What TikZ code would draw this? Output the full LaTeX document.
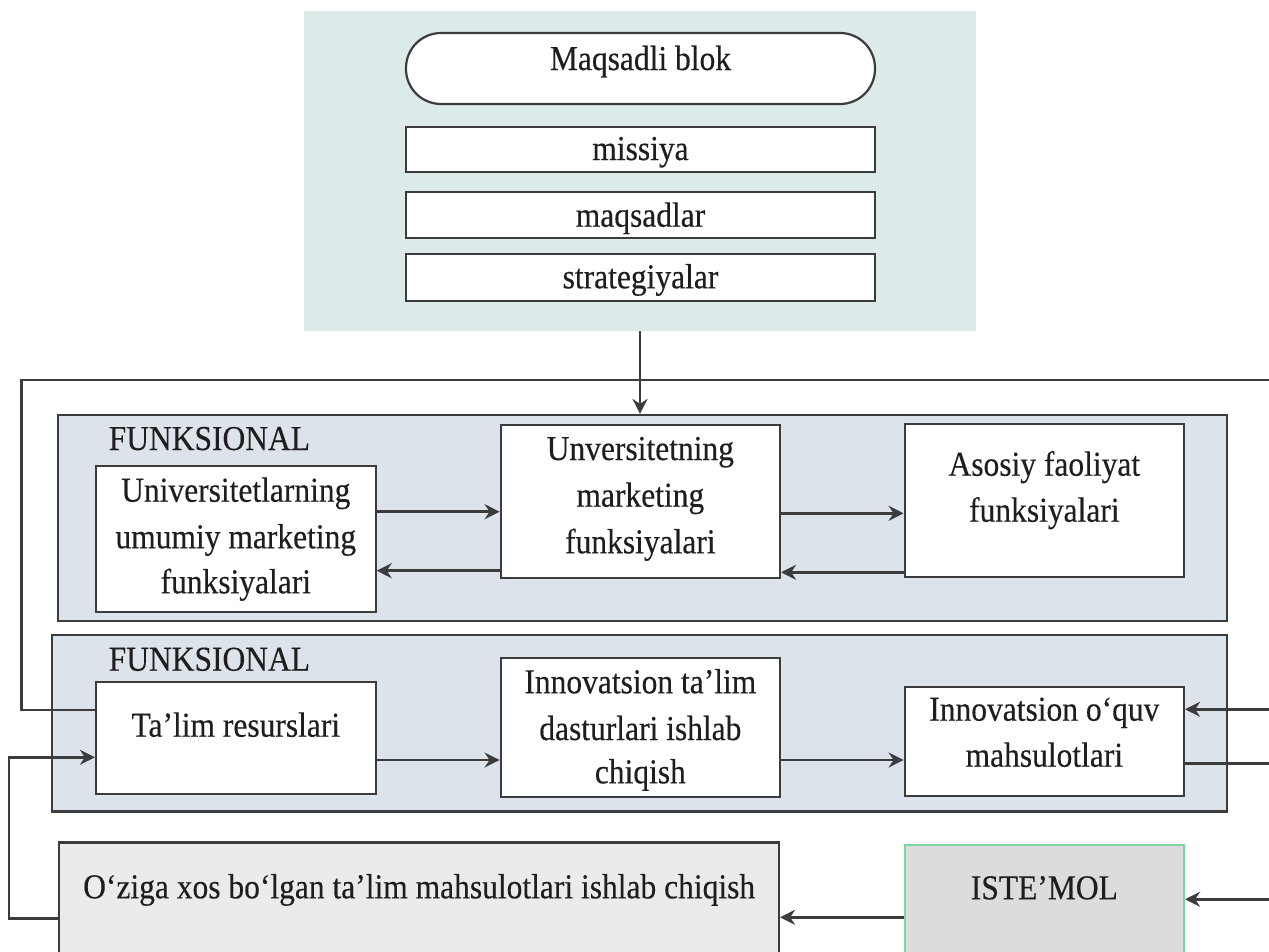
\documentclass[tikz,border=0pt]{standalone}
\usepackage{fontspec}
\setmainfont{Liberation Serif}[FakeStretch=0.9,FakeBold=0.3]
\usetikzlibrary{arrows.meta}
\definecolor{tealbg}{HTML}{DDEAEA}
\definecolor{panelbg}{HTML}{DCE3EA}
\definecolor{lineC}{HTML}{3C3C3C}
\definecolor{txtC}{HTML}{1E1E1E}
\definecolor{greyA}{HTML}{EBEBEB}
\definecolor{greyB}{HTML}{DCDCDC}
\definecolor{greenB}{HTML}{80D4A4}
\begin{document}
\begin{tikzpicture}[x=1pt,y=-1pt,
 boxst/.style={draw=lineC, fill=white, line width=2.2pt, inner sep=0pt, rectangle},
 panelst/.style={draw=lineC, fill=panelbg, line width=2.2pt, inner sep=0pt, rectangle},
 txt/.style={font=\fontsize{35}{46}\selectfont, text=txtC, anchor=base, inner sep=0pt},
 conn/.style={draw=lineC, line width=2.5pt},
 arr/.style={conn, -{Stealth[length=15pt,width=15pt,inset=5pt]}}
]
\fill[white] (0,0) rectangle (1269,951);
\useasboundingbox (0,0) rectangle (1269,951);

% goal block
\node[fill=tealbg, inner sep=0pt, minimum width=672pt, minimum height=320pt] (goal) at (640,171) {};
\node[boxst, rounded corners=35pt, minimum width=469pt, minimum height=71pt] (mb) at (640.5,68.5) {};
\node[txt] (mbt) at (640.5,70) {Maqsadli blok};
\node[boxst, minimum width=469pt, minimum height=45pt] (mis) at (640.5,149.2) {};
\node[txt] (mist) at (640.5,160) {missiya};
\node[boxst, minimum width=469pt, minimum height=46.6pt] (maq) at (640.5,215) {};
\node[txt] (maqt) at (640.5,226.7) {maqsadlar};
\node[boxst, minimum width=469pt, minimum height=46.7pt] (str) at (640.5,277.3) {};
\node[txt] (strt) at (640.5,288.3) {strategiyalar};

% panels
\node[panelst, minimum width=1169pt, minimum height=205.7pt] (p1) at (642.5,517.85) {};
\node[panelst, minimum width=1175pt, minimum height=176.5pt] (p2) at (639.5,723.25) {};
\node[txt, anchor=base west] (f1) at (108.6,450) {FUNKSIONAL};
\node[txt, anchor=base west] (f2) at (108.6,670.7) {FUNKSIONAL};

% row 1 boxes
\node[boxst, minimum width=279.6pt, minimum height=145.7pt] (u1) at (235.8,538.85) {};
\node[txt] (u1a) at (235.8,501.7) {Universitetlarning};
\node[txt] (u1b) at (235.8,548.3) {umumiy marketing};
\node[txt] (u1c) at (235.8,593.3) {funksiyalari};
\node[boxst, minimum width=279.3pt, minimum height=152.7pt] (u2) at (640.35,501.35) {};
\node[txt] (u2a) at (640.35,460) {Unversitetning};
\node[txt] (u2b) at (640.35,506.7) {marketing};
\node[txt] (u2c) at (640.35,553.3) {funksiyalari};
\node[boxst, minimum width=279.3pt, minimum height=153pt] (u3) at (1044.35,500.8) {};
\node[txt] (u3a) at (1044.35,475.7) {Asosiy faoliyat};
\node[txt] (u3b) at (1044.35,521.7) {funksiyalari};

% row 2 boxes
\node[boxst, minimum width=279.6pt, minimum height=112pt] (tr) at (235.8,738) {};
\node[txt] (trt) at (235.8,736.7) {Ta’lim resurslari};
\node[boxst, minimum width=279.3pt, minimum height=138.4pt] (in) at (640.35,727.5) {};
\node[txt] (ina) at (640.35,693.3) {Innovatsion ta’lim};
\node[txt] (inb) at (640.35,740) {dasturlari ishlab};
\node[txt] (inc) at (640.35,783.3) {chiqish};
\node[boxst, minimum width=279.3pt, minimum height=109.3pt] (oq) at (1044.35,741.35) {};
\node[txt] (oqa) at (1044.35,720.7) {Innovatsion o‘quv};
\node[txt] (oqb) at (1044.35,766.7) {mahsulotlari};

% bottom boxes
\node[boxst, fill=greyA, minimum width=719.7pt, minimum height=127.5pt] (oz) at (419.15,906.25) {};
\node[txt] (ozt) at (419.15,898.3) {O‘ziga xos bo‘lgan ta’lim mahsulotlari ishlab chiqish};
\node[boxst, draw=greenB, fill=greyB, minimum width=279.3pt, minimum height=125pt] (is) at (1044.35,907.5) {};
\node[txt] (ist) at (1044.35,899.3) {ISTE’MOL};

% helper coordinates
\coordinate (y1) at (0,511.7);
\coordinate (y2) at (0,570.7);
\coordinate (y3) at (0,513.3);
\coordinate (y4) at (0,572.3);
\coordinate (y5) at (0,760);
\coordinate (ya) at (0,709.3);
\coordinate (yb) at (0,763.3);
\coordinate (yc) at (0,899.3);
\coordinate (yd) at (0,917.3);
\coordinate (ye) at (0,757.3);
\coordinate (yf) at (0,710);
\coordinate (yg) at (0,918.3);
\coordinate (r1) at (1269,380);
\coordinate (l1) at (21.6,380);
\coordinate (l2) at (21.6,710);
\coordinate (ra) at (1269,709.3);
\coordinate (rb) at (1269,763.3);
\coordinate (rc) at (1269,899.3);
\coordinate (l3) at (9.1,918.3);
\coordinate (l4) at (9.1,757.3);

% connectors
\draw[arr] (goal.south) -- (goal.south |- p1.north);
\draw[conn] (r1) -- (l1) -- (l2) -- (tr.west |- yf);
\draw[arr] (u1.east |- y1) -- (u2.west |- y1);
\draw[arr] (u2.west |- y2) -- (u1.east |- y2);
\draw[arr] (u2.east |- y3) -- (u3.west |- y3);
\draw[arr] (u3.west |- y4) -- (u2.east |- y4);
\draw[arr] (tr.east |- y5) -- (in.west |- y5);
\draw[arr] (in.east |- y5) -- (oq.west |- y5);
\draw[arr] (ra) -- (oq.east |- ya);
\draw[conn] (oq.east |- yb) -- (rb);
\draw[arr] (rc) -- (is.east |- yc);
\draw[arr] (is.west |- yd) -- (oz.east |- yd);
\draw[arr] (oz.west |- yg) -- (l3) -- (l4) -- (tr.west |- ye);
\end{tikzpicture}
\end{document}
